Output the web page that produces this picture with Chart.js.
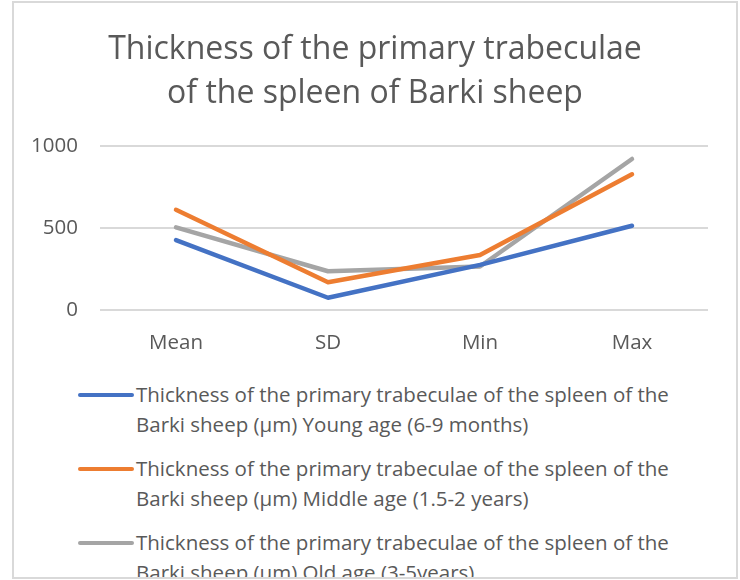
<!DOCTYPE html>
<html>
<head>
<meta charset="utf-8">
<script src="https://cdn.jsdelivr.net/npm/chart.js@4.4.1/dist/chart.umd.min.js"></script>
<style>
    html, body { margin: 0; padding: 0; background: #fff; overflow: hidden; }
    #frame {
        position: absolute; left: 12px; top: 1px;
        width: 726px; height: 578px;
        box-sizing: border-box;
        border: 2px solid #d9d9d9;
        overflow: hidden;
        font-family: "Open Sans", sans-serif;
    }
    #chart { position: absolute; left: 0; top: 0; }
    #legend { position: absolute; left: 0; top: 376px; width: 722px; }
    .item { position: relative; height: 74px; }
    .swatch { position: absolute; left: 64px; top: 14px; width: 56px; height: 4px; border-radius: 2px; }
    .txt { position: absolute; left: 122px; top: 0; width: 560px; color: #595959; font-size: 20.5px; line-height: 30px; }
</style>
</head>
<body>
<div id="frame">
    <canvas id="chart" width="722" height="364"></canvas>
    <div id="legend"></div>
</div>
<script>
// Chart values
const categories = ['Mean', 'SD', 'Min', 'Max'];
const youngAge = [428, 77, 277, 515];
const middleAge = [612, 171, 337, 828];
const oldAge = [505, 238, 267, 921];
const yTicks = [0, 500, 1000];

const seriesNames = [
    'Thickness of the primary trabeculae of the spleen of the Barki sheep (µm) Young age (6-9 months)',
    'Thickness of the primary trabeculae of the spleen of the Barki sheep (µm) Middle age (1.5-2 years)',
    'Thickness of the primary trabeculae of the spleen of the Barki sheep (µm) Old age (3-5years)'
];
const seriesColors = ['#4472C4', '#ED7D31', '#A5A5A5'];
const titleLines = ['Thickness of the primary trabeculae', 'of the spleen of Barki sheep'];

const textColor = '#595959';
const fontFamily = '"Open Sans", sans-serif';

function makeDataset(label, values, color) {
    return {
        label: label,
        data: values,
        borderColor: color,
        backgroundColor: color,
        borderWidth: 4.5,
        borderCapStyle: 'round',
        borderJoinStyle: 'round',
        pointRadius: 0,
        pointHoverRadius: 0,
        tension: 0,
        fill: false
    };
}

// stretch the title box over the whole canvas so it is centred on the frame
const centreTitle = {
    id: 'centreTitle',
    afterLayout(chart) {
        if (chart.titleBlock) {
            chart.titleBlock.left = 0;
            chart.titleBlock.right = chart.width;
            chart.titleBlock.width = chart.width;
        }
    }
};

const ctx = document.getElementById('chart').getContext('2d');
new Chart(ctx, {
    type: 'line',
    data: {
        labels: categories,
        datasets: [
            makeDataset(seriesNames[0], youngAge, seriesColors[0]),
            makeDataset(seriesNames[1], middleAge, seriesColors[1]),
            makeDataset(seriesNames[2], oldAge, seriesColors[2])
        ]
    },
    plugins: [centreTitle],
    options: {
        responsive: false,
        animation: false,
        layout: { padding: { left: 0, right: 28, top: 0, bottom: 0 } },
        plugins: {
            legend: { display: false },
            tooltip: { enabled: false },
            title: {
                display: true,
                text: titleLines,
                color: textColor,
                font: { family: fontFamily, size: 32, weight: 'normal', lineHeight: 1.375 },
                padding: { top: 25, bottom: 30 }
            }
        },
        scales: {
            x: {
                offset: true,
                grid: { display: false },
                border: { display: false },
                ticks: {
                    color: textColor,
                    font: { family: fontFamily, size: 20.5 },
                    padding: 12
                }
            },
            y: {
                min: 0,
                max: 1000,
                afterFit: scale => { scale.width = 86; },
                afterBuildTicks: scale => { scale.ticks = yTicks.map(v => ({ value: v })); },
                grid: { color: '#d9d9d9', lineWidth: 2, drawTicks: false },
                border: { display: false },
                ticks: {
                    color: textColor,
                    font: { family: fontFamily, size: 20.5 },
                    padding: 22,
                    callback: value => String(value)
                }
            }
        }
    }
});

// Legend drawn as html so the long names can wrap like the original
const legend = document.getElementById('legend');
seriesNames.forEach((name, i) => {
    const item = document.createElement('div');
    item.className = 'item';
    const sw = document.createElement('div');
    sw.className = 'swatch';
    sw.style.background = seriesColors[i];
    const txt = document.createElement('div');
    txt.className = 'txt';
    txt.textContent = name;
    item.appendChild(sw);
    item.appendChild(txt);
    legend.appendChild(item);
});
</script>
</body>
</html>
